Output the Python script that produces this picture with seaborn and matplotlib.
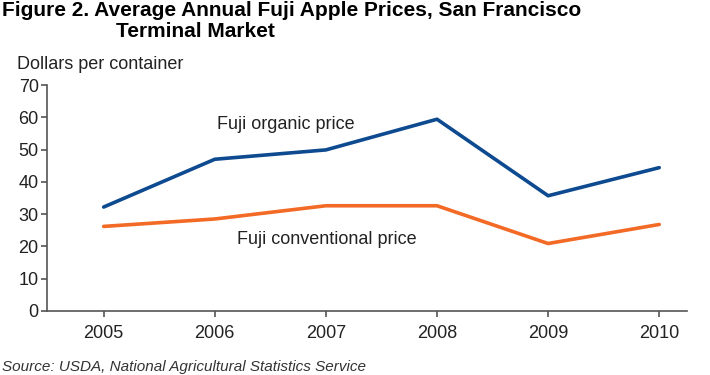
import pandas as pd
import seaborn as sns
import matplotlib.pyplot as plt

years = [2005, 2006, 2007, 2008, 2009, 2010]
organic = [32.2, 47.0, 49.9, 59.4, 35.7, 44.4]
conventional = [26.2, 28.5, 32.6, 32.6, 20.9, 26.8]

df = pd.DataFrame({
    "year": years * 2,
    "price": organic + conventional,
    "series": ["organic"] * 6 + ["conventional"] * 6,
})

sns.set_theme(style="ticks")
plt.rcParams["font.family"] = ["Liberation Sans", "DejaVu Sans"]

fig = plt.figure(figsize=(7.1, 3.75), dpi=100)
ax = fig.add_axes([0.0662, 0.1707, 0.9014, 0.6026])

sns.lineplot(
    data=df, x="year", y="price", hue="series",
    palette={"organic": "#0e4a8f", "conventional": "#f26a25"},
    linewidth=2.6, legend=False, ax=ax,
)

ax.set_xlim(2004.49, 2010.25)
ax.set_ylim(0, 70)
ax.set_xticks(years)
ax.set_yticks(range(0, 71, 10))
ax.set_xlabel("")
ax.set_ylabel("")
sns.despine(ax=ax)
for side in ["left", "bottom"]:
    ax.spines[side].set_color("#555555")
    ax.spines[side].set_linewidth(1.2)
ax.tick_params(axis="both", colors="#555555", labelcolor="#222222",
               labelsize=13, length=4, width=1.2)
ax.tick_params(axis="x", pad=6)
ax.tick_params(axis="y", pad=2)

ax.text(2006.02, 57.9, "Fuji organic price", fontsize=13, color="#222222",
        va="center", ha="left")
ax.text(2006.2, 22.0, "Fuji conventional price", fontsize=13, color="#222222",
        va="center", ha="left")

fig.text(0.024, 0.827, "Dollars per container", fontsize=13, color="#222222",
         va="center", ha="left")

# title: first line sits at the very top, second line indented below it
fig.text(0.003, 0.998, "Figure 2. Average Annual Fuji Apple Prices, San Francisco",
         fontsize=15, fontweight="bold", color="#000000",
         va="top", ha="left")
fig.text(0.163, 0.942, "Terminal Market", fontsize=15, fontweight="bold",
         color="#000000", va="top", ha="left")

fig.text(0.003, 0.004, "Source: USDA, National Agricultural Statistics Service",
         fontsize=11, style="italic", color="#333333", va="bottom", ha="left")

fig.savefig("out.png", dpi=100)
